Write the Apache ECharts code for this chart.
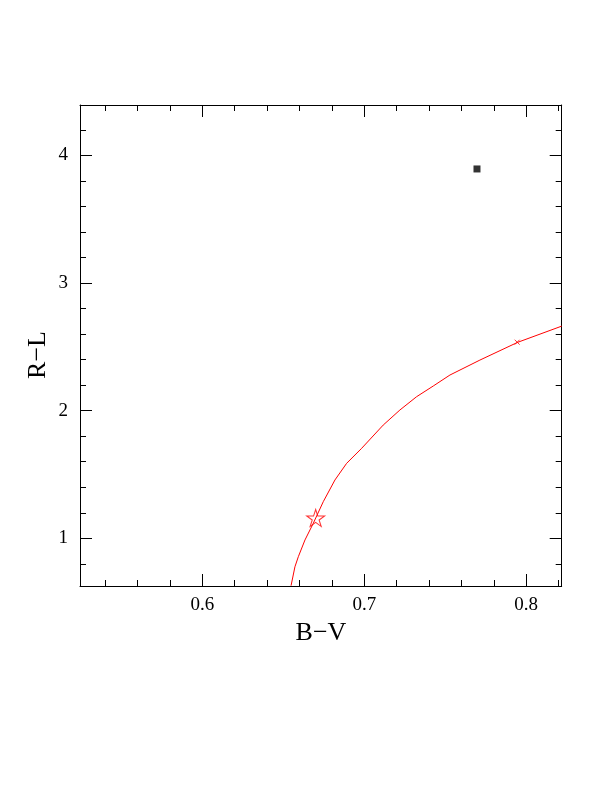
<!DOCTYPE html>
<html>
<head>
<meta charset="utf-8">
<script src="https://cdn.jsdelivr.net/npm/echarts@6/dist/echarts.min.js"></script>
<style>
html,body{margin:0;padding:0;background:#fff;}
#chart{width:612px;height:792px;}
</style>
</head>
<body>
<div id="chart"></div>
<script>
// ---- data ----
var curveBV = [0.6548, 0.6572, 0.6593, 0.6634, 0.6685, 0.6747, 0.6819, 0.6891, 0.6984, 0.7117, 0.7220, 0.7323, 0.7426, 0.7529, 0.7714, 0.7947, 0.8219];
var curveRL = [0.629, 0.777, 0.856, 0.987, 1.117, 1.287, 1.457, 1.587, 1.705, 1.887, 2.005, 2.109, 2.193, 2.279, 2.396, 2.535, 2.662];
var starBV = [0.670];
var starRL = [1.159];
var squareBV = [0.7696];
var squareRL = [3.893];
var crossBV = [0.7944];
var crossRL = [2.536];
var xMajorTicks = [0.6, 0.7, 0.8];
var xMinorTicks = [0.54, 0.56, 0.58, 0.62, 0.64, 0.66, 0.68, 0.72, 0.74, 0.76, 0.78, 0.82];
var yMajorTicks = [1, 2, 3, 4];
var yMinorTicks = [0.8, 1.2, 1.4, 1.6, 1.8, 2.2, 2.4, 2.6, 2.8, 3.2, 3.4, 3.6, 3.8, 4.2];
var xRange = [0.5245, 0.8219];
var yRange = [0.6265, 4.394];

function zip(a, b) { return a.map(function (v, i) { return [v, b[i]]; }); }

var FONT = 'Liberation Serif';
var starPath = 'path://M50 0 L61.17 34.63 L97.55 34.55 L68.07 55.87 L79.39 90.45 L50 69 L20.61 90.45 L31.93 55.87 L2.45 34.55 L38.83 34.63 Z';
var crossPath = 'path://M0 0 L10 10 M10 0 L0 10';

function mkX(pos, ticks, len, showLine, showLabel) {
  return {
    type: 'value', position: pos, min: xRange[0], max: xRange[1],
    axisLine: { show: showLine, onZero: false, lineStyle: { color: '#000', width: 1 } },
    axisTick: { show: true, inside: true, length: len, customValues: ticks, lineStyle: { color: '#000', width: 1 } },
    axisLabel: { show: showLabel, customValues: ticks, margin: 10, fontFamily: FONT, fontSize: 19, color: '#000',
      formatter: function (v) { return v.toFixed(1); } },
    splitLine: { show: false }
  };
}
function mkY(pos, ticks, len, showLine, showLabel) {
  return {
    type: 'value', position: pos, min: yRange[0], max: yRange[1],
    axisLine: { show: showLine, onZero: false, lineStyle: { color: '#000', width: 1 } },
    axisTick: { show: true, inside: true, length: len, customValues: ticks, lineStyle: { color: '#000', width: 1 } },
    axisLabel: { show: showLabel, customValues: ticks, margin: 12, fontFamily: FONT, fontSize: 19, color: '#000',
      formatter: function (v) { return String(Math.round(v)); } },
    splitLine: { show: false }
  };
}

var chart = echarts.init(document.getElementById('chart'), null, { renderer: 'canvas' });
chart.setOption({
  animation: false,
  backgroundColor: '#fff',
  grid: { left: 80, right: 50.3, top: 105, bottom: 206, containLabel: false },
  xAxis: [
    mkX('bottom', xMajorTicks, 12, true, true),
    mkX('bottom', xMinorTicks, 6, false, false),
    mkX('top', xMajorTicks, 12, true, false),
    mkX('top', xMinorTicks, 6, false, false)
  ],
  yAxis: [
    mkY('left', yMajorTicks, 12, true, true),
    mkY('left', yMinorTicks, 6, false, false),
    mkY('right', yMajorTicks, 12, true, false),
    mkY('right', yMinorTicks, 6, false, false)
  ],
  graphic: [
    { type: 'text', x: 321, y: 633, style: { text: 'B\u2212V', fontFamily: FONT, fontSize: 26, fill: '#000', align: 'center', verticalAlign: 'middle' } },
    { type: 'text', x: 38, y: 355, rotation: Math.PI / 2, style: { text: 'R\u2212L', fontFamily: FONT, fontSize: 26, fill: '#000', align: 'center', verticalAlign: 'middle' } }
  ],
  series: [
    { type: 'line', xAxisIndex: 0, yAxisIndex: 0, data: zip(curveBV, curveRL), showSymbol: false, smooth: false,
      lineStyle: { color: '#ff0000', width: 1 }, clip: true, silent: true },
    { type: 'scatter', xAxisIndex: 0, yAxisIndex: 0, data: zip(starBV, starRL), symbol: starPath, symbolSize: [18, 17],
      itemStyle: { color: 'rgba(0,0,0,0)', borderColor: '#ff0000', borderWidth: 1 } },
    { type: 'scatter', xAxisIndex: 0, yAxisIndex: 0, data: zip(squareBV, squareRL), symbol: 'rect', symbolSize: 7,
      itemStyle: { color: '#000' } },
    { type: 'scatter', xAxisIndex: 0, yAxisIndex: 0, data: zip(crossBV, crossRL), symbol: crossPath, symbolSize: 5,
      itemStyle: { color: 'rgba(0,0,0,0)', borderColor: '#ff0000', borderWidth: 1 } }
  ]
});
</script>
</body>
</html>
